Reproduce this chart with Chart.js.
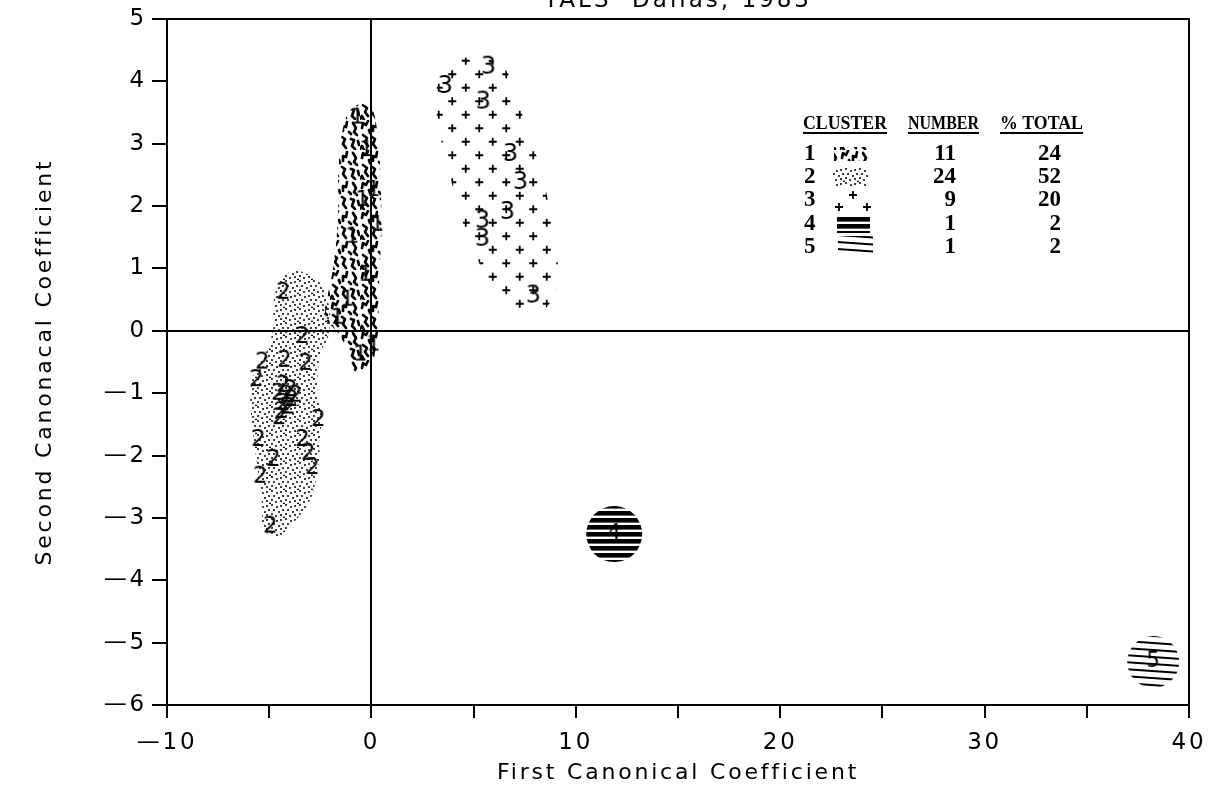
<!DOCTYPE html>
<html><head><meta charset="utf-8">
<script src="https://cdn.jsdelivr.net/npm/chart.js@4.4.0/dist/chart.umd.min.js"></script>
<style>html,body{margin:0;padding:0;background:#fff;overflow:hidden}#wrap{width:1219px;height:804px;position:relative}canvas{display:block}</style>
</head><body><div id="wrap"><canvas id="c" width="1219" height="804"></canvas></div>
<script>
// ---------------- data ----------------
const chartTitle = 'TALS  Dallas, 1983';
const xAxisTitle = 'First Canonical Coefficient';
const yAxisTitle = 'Second Canonacal Coefficient';
const xRange = [-10, 40];
const yRange = [-6, 5];
const xStep = 5;
const yStep = 1;

// cluster member positions (first, second canonical coefficient)
const cluster1Points = [[-0.93,1.51],[-0.69,3.42],[-0.24,2.90],[0.10,2.26],[0.29,1.70],[-0.29,0.90],[-1.67,0.21],[0.10,-0.22],[-0.54,-0.38],[-1.18,0.50],[-0.44,2.10]];
const cluster2Points = [[-4.31,0.61],[-3.38,-0.10],[-5.34,-0.51],[-4.26,-0.48],[-3.23,-0.53],[-5.63,-0.79],[-4.31,-0.88],[-3.97,-0.95],[-4.16,-1.04],[-3.92,-1.11],[-4.31,-1.17],[-4.06,-1.23],[-4.41,-1.30],[-4.51,-1.40],[-2.60,-1.43],[-5.53,-1.75],[-3.38,-1.75],[-3.09,-1.97],[-4.80,-2.07],[-2.89,-2.20],[-5.44,-2.34],[-4.95,-3.14],[-3.72,-1.04],[-4.55,-1.01]];
const cluster3Points = [[5.73,4.22],[3.62,3.91],[5.48,3.66],[6.81,2.82],[7.30,2.37],[6.66,1.89],[5.44,1.75],[5.44,1.46],[7.93,0.55]];
const cluster4Points = [[11.88,-3.26]];
const cluster5Points = [[38.25,-5.31]];

// shaded cluster regions (outline vertices)
const cluster1Outline = [[-0.54,3.66],[0.05,3.54],[0.29,3.18],[0.44,2.53],[0.49,1.62],[0.39,0.87],[0.34,0.13],[0.29,-0.14],[0.05,-0.51],[-0.39,-0.66],[-0.88,-0.63],[-1.18,-0.30],[-1.67,-0.02],[-2.25,0.21],[-2.15,0.55],[-1.91,0.93],[-1.71,1.46],[-1.62,1.99],[-1.62,2.53],[-1.47,3.11],[-1.13,3.50]];
const cluster2Outline = [[-3.62,0.98],[-2.64,0.82],[-2.15,0.50],[-2.01,0.18],[-2.15,-0.14],[-2.50,-0.35],[-2.64,-0.99],[-2.40,-1.38],[-2.50,-1.64],[-2.60,-2.18],[-2.99,-2.71],[-3.97,-3.14],[-4.60,-3.30],[-5.29,-3.19],[-5.34,-2.82],[-5.58,-2.18],[-5.83,-1.54],[-5.93,-0.99],[-5.68,-0.63],[-5.09,-0.30],[-4.80,0.06],[-4.80,0.45],[-4.46,0.82],[-3.82,0.98]];
const cluster3Outline = [[5.24,4.43],[6.56,4.19],[7.30,3.54],[8.28,2.58],[8.91,1.62],[9.11,0.74],[8.28,0.30],[6.81,0.42],[5.58,0.90],[4.60,1.62],[3.77,2.58],[3.23,3.38],[3.23,3.94],[4.11,4.31]];

// legend table
const legendHeaders = ['CLUSTER', 'NUMBER', '% TOTAL'];
const legendClusters = ['1', '2', '3', '4', '5'];
const legendNumbers = [11, 24, 9, 1, 1];
const legendPercents = [24, 52, 20, 2, 2];

// ---------------- styling helpers ----------------
const canvas = document.getElementById('c');
const mainCtx = canvas.getContext('2d');
const SANS = 'DejaVu Sans';

function tile(w, h, draw) {
  const c = document.createElement('canvas'); c.width = w; c.height = h;
  const g = c.getContext('2d'); g.fillStyle = '#000'; g.strokeStyle = '#000'; draw(g); return c;
}
const squiggleTile = tile(30, 30, g => {
  g.lineWidth = 2.7; g.lineCap = 'round'; g.lineJoin = 'round';
  const strokes = [
    [[2,8],[3,3],[6,5],[8,1]],
    [[13,11],[13,6],[16,7],[17,2]],
    [[23,3],[26,8],[24,12],[27,15]],
    [[3,15],[7,18],[5,22],[8,26]],
    [[12,17],[15,19],[13,24],[16,28]],
    [[21,19],[24,20],[22,26],[25,29]],
    [[0,29],[2,26],[4,30]],
    [[9,10],[10,13]],
    [[19,12],[21,14]],
    [[28,21],[29,25]]
  ];
  strokes.forEach(s => { g.beginPath(); g.moveTo(s[0][0], s[0][1]); for (let i = 1; i < s.length; i++) g.lineTo(s[i][0], s[i][1]); g.stroke(); });
});
const dotTile = tile(14, 14, g => {
  [[1,2],[6,1],[11,3],[3,6],[8,6],[13,8],[1,11],[6,10],[10,12],[4,13.5]].forEach(p => { g.beginPath(); g.arc(p[0], p[1], 1.0, 0, Math.PI * 2); g.fill(); });
});
const plusTile = tile(27, 27, g => {
  g.lineWidth = 1.8;
  [[6.75,6.75],[20.25,20.25]].forEach(p => { g.beginPath(); g.moveTo(p[0]-4,p[1]); g.lineTo(p[0]+4,p[1]); g.moveTo(p[0],p[1]-4); g.lineTo(p[0],p[1]+4); g.stroke(); });
});
const thickStripeTile = tile(8, 7, g => { g.fillRect(0, 0, 8, 4.6); });
const thinStripeTile = tile(8, 7, g => { g.fillRect(0, 0, 8, 2); });

const squigglePat = mainCtx.createPattern(squiggleTile, 'repeat');
const dotPat = mainCtx.createPattern(dotTile, 'repeat');
const plusPat = mainCtx.createPattern(plusTile, 'repeat');
const thickPat = mainCtx.createPattern(thickStripeTile, 'repeat');
const thinPat = mainCtx.createPattern(thinStripeTile, 'repeat');
try { thinPat.setTransform(new DOMMatrix().rotate(4)); } catch (e) {}

function digitMarker(d, size) {
  return tile(24, 28, g => {
    g.font = size + 'px "' + SANS + '"'; g.textAlign = 'center'; g.textBaseline = 'middle';
    g.fillText(d, 12, 14);
  });
}
const m1 = digitMarker('1', 22), m2 = digitMarker('2', 23), m3 = digitMarker('3', 24), m4 = digitMarker('4', 21), m5 = digitMarker('5', 21);

const toXY = arr => arr.map(p => ({x: p[0], y: p[1]}));
const closed = arr => toXY(arr.concat([arr[0]]));
const fmt = v => v < 0 ? '\u2014' + Math.abs(v) : String(v);

function labelSet(pts, img) {
  return {type: 'scatter', data: toXY(pts), pointStyle: img, pointRadius: 10, showLine: false, order: 0};
}
function regionSet(pts, pat) {
  return {type: 'line', data: closed(pts), fill: 'shape', backgroundColor: pat, borderWidth: 0, borderColor: 'rgba(0,0,0,0)', pointRadius: 0, tension: 0.3, order: 1};
}
function blobSet(pts, pat, r) {
  return {type: 'scatter', data: toXY(pts), pointStyle: 'circle', pointRadius: r, backgroundColor: pat, borderWidth: 0, order: 1};
}
function noPad(s) { s.paddingTop = 0; s.paddingBottom = 0; s.paddingLeft = 0; s.paddingRight = 0; }

// ---------------- plugins ----------------
const spacingPlugin = {
  id: 'spacing',
  beforeDraw(chart) { chart.ctx.letterSpacing = '2.8px'; }
};
const decorPlugin = {
  id: 'decor',
  afterDraw(chart) {
    const g = chart.ctx; const a = chart.chartArea;
    g.save();
    // title (partly cut by top edge, as in the scan)
    g.letterSpacing = '3px';
    g.fillStyle = '#000'; g.font = '23px "' + SANS + '"'; g.textAlign = 'center'; g.textBaseline = 'alphabetic';
    g.fillText(chartTitle, (a.left + a.right) / 2, 7);
    // legend table
    g.letterSpacing = '0px';
    g.font = 'bold 19px "Liberation Serif"'; g.textBaseline = 'alphabetic'; g.textAlign = 'left';
    const hx = [[803, 887], [908, 979], [1000, 1083]];
    legendHeaders.forEach((h, i) => {
      g.fillText(h, hx[i][0], 129, hx[i][1] - hx[i][0]);
      g.fillRect(hx[i][0], 132, hx[i][1] - hx[i][0], 2);
    });
    const rowY = [154, 177, 200, 224, 247];
    g.font = 'bold 23px "Liberation Serif"'; g.textBaseline = 'middle';
    legendClusters.forEach((c, i) => {
      g.textAlign = 'left'; g.fillText(c, 804, rowY[i]);
      g.textAlign = 'right'; g.fillText(String(legendNumbers[i]), 956, rowY[i]); g.fillText(String(legendPercents[i]), 1061, rowY[i]);
    });
    // legend swatches
    g.fillStyle = squigglePat; g.fillRect(834, 147, 36, 14);
    g.fillStyle = dotPat; g.fillRect(833, 168, 35, 19);
    g.fillStyle = '#000'; g.strokeStyle = '#000'; g.lineWidth = 1.8;
    [[853,195],[839,207],[867,207]].forEach(p => { g.beginPath(); g.moveTo(p[0]-4,p[1]); g.lineTo(p[0]+4,p[1]); g.moveTo(p[0],p[1]-4); g.lineTo(p[0],p[1]+4); g.stroke(); });
    g.fillStyle = thickPat; g.fillRect(837, 215, 33, 18);
    g.fillStyle = thinPat; g.fillRect(838, 236, 35, 17);
    g.restore();
  }
};

// ---------------- chart ----------------
Chart.defaults.color = '#000';
Chart.defaults.font.family = SANS;

const zeroGrid = {
  color: c => (c.tick && c.tick.value === 0) ? '#000' : 'rgba(0,0,0,0)',
  lineWidth: 2, tickColor: '#000', tickWidth: 2, drawOnChartArea: true
};

new Chart(canvas, {
  type: 'scatter',
  data: {
    datasets: [
      labelSet(cluster3Points, m3),
      labelSet(cluster2Points, m2),
      labelSet(cluster1Points, m1),
      labelSet(cluster4Points, m4),
      labelSet(cluster5Points, m5),
      blobSet(cluster4Points, thickPat, 28),
      blobSet(cluster5Points, thinPat, 26),
      regionSet(cluster1Outline, squigglePat),
      regionSet(cluster2Outline, dotPat),
      regionSet(cluster3Outline, plusPat)
    ]
  },
  options: {
    responsive: false, animation: false, devicePixelRatio: 1, events: [],
    layout: {autoPadding: false, padding: {top: 19, right: 30, left: 0, bottom: 0}},
    plugins: {legend: {display: false}, tooltip: {enabled: false}},
    scales: {
      x: {
        type: 'linear', position: 'bottom', min: xRange[0], max: xRange[1],
        ticks: {stepSize: xStep, autoSkip: false, maxRotation: 0, padding: 11, font: {size: 23},
          callback: v => (v % 10 === 0 ? fmt(v) : '')},
        grid: Object.assign({tickLength: 13}, zeroGrid),
        border: {display: true, color: '#000', width: 2},
        title: {display: true, text: xAxisTitle, font: {size: 22}, padding: {top: 0, bottom: 18}},
        afterFit: s => { s.height = 99; noPad(s); }
      },
      y: {
        type: 'linear', position: 'left', min: yRange[0], max: yRange[1],
        ticks: {stepSize: yStep, autoSkip: false, padding: 5, font: {size: 23}, callback: v => fmt(v)},
        grid: Object.assign({tickLength: 15}, zeroGrid),
        border: {display: true, color: '#000', width: 2},
        title: {display: true, text: yAxisTitle, font: {size: 22}, padding: {top: 32, bottom: 0}},
        afterFit: s => { s.width = 167; noPad(s); }
      },
      x2: {
        type: 'linear', position: 'top', min: xRange[0], max: xRange[1],
        ticks: {display: false}, grid: {display: false, drawTicks: false},
        border: {display: true, color: '#000', width: 2},
        afterFit: s => { s.height = 0; noPad(s); }
      },
      y2: {
        type: 'linear', position: 'right', min: yRange[0], max: yRange[1],
        ticks: {display: false}, grid: {display: false, drawTicks: false},
        border: {display: true, color: '#000', width: 2},
        afterFit: s => { s.width = 0; noPad(s); }
      }
    }
  },
  plugins: [spacingPlugin, decorPlugin]
});
</script></body></html>
